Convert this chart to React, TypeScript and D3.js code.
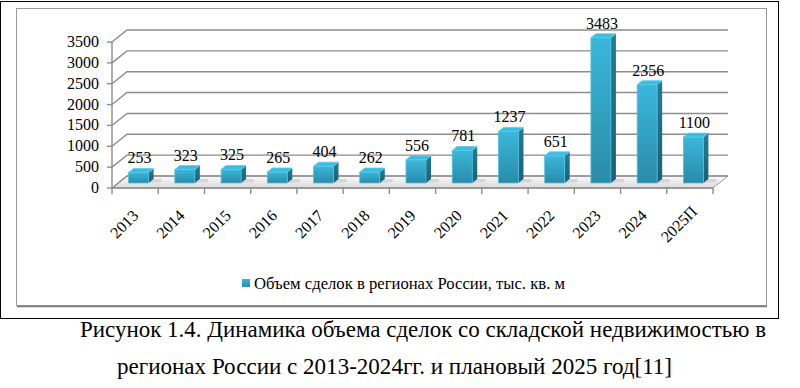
import React, { useEffect, useRef } from 'react';
import * as d3 from 'd3';

// Chart data
const years: string[] = ['2013', '2014', '2015', '2016', '2017', '2018', '2019', '2020', '2021', '2022', '2023', '2024', '2025П'];
const volumes: number[] = [253, 323, 325, 265, 404, 262, 556, 781, 1237, 651, 3483, 2356, 1100];
const yTicks: number[] = [0, 500, 1000, 1500, 2000, 2500, 3000, 3500];
const legendLabel = 'Объем сделок в регионах России, тыс. кв. м';
const captionLines: string[] = [
    'Рисунок 1.4. Динамика объема сделок со складской недвижимостью в',
    'регионах России с 2013-2024гг. и плановый 2025 год[11]',
];

const W = 800;
const H = 388;
const SERIF = "'Liberation Serif', 'DejaVu Serif', serif";

export default function App() {
    const svgRef = useRef<SVGSVGElement>(null);

    useEffect(() => {
        if (!svgRef.current) return;
        const svg = d3.select(svgRef.current);
        svg.selectAll('*').remove();

        // front plane of the 3D box
        const x = d3.scaleBand<string>().domain(years).range([112, 713]).padding(0);
        const y = d3.scaleLinear().domain([0, 3500]).range([188, 42]);
        const depth = { dx: 15, dy: -12 }; // back wall offset
        const bar = { half: 10, ox: 3.5, oy: -5, sx: 5, sy: -4 }; // bar front offset + side depth

        const defs = svg.append('defs');
        const front = defs.append('linearGradient').attr('id', 'barFront')
            .attr('x1', 0).attr('y1', 0).attr('x2', 0).attr('y2', 1);
        front.append('stop').attr('offset', '0%').attr('stop-color', '#3bb7db');
        front.append('stop').attr('offset', '100%').attr('stop-color', '#2a8ba8');
        const side = defs.append('linearGradient').attr('id', 'barSide')
            .attr('x1', 0).attr('y1', 0).attr('x2', 0).attr('y2', 1);
        side.append('stop').attr('offset', '0%').attr('stop-color', '#237c95');
        side.append('stop').attr('offset', '100%').attr('stop-color', '#1b6074');
        const floor = defs.append('linearGradient').attr('id', 'floorFill')
            .attr('x1', 0).attr('y1', 1).attr('x2', 0).attr('y2', 0);
        floor.append('stop').attr('offset', '0%').attr('stop-color', '#dadada');
        floor.append('stop').attr('offset', '100%').attr('stop-color', '#fafafa');
        const legendGrad = defs.append('linearGradient').attr('id', 'legendFill')
            .attr('x1', 0).attr('y1', 0).attr('x2', 0).attr('y2', 1);
        legendGrad.append('stop').attr('offset', '0%').attr('stop-color', '#3bb7db');
        legendGrad.append('stop').attr('offset', '100%').attr('stop-color', '#2a8ba8');

        svg.append('rect').attr('width', W).attr('height', H).attr('fill', '#fff');

        // outer black frame and inner chart frame
        svg.append('rect')
            .attr('x', 0.5).attr('y', 1.5).attr('width', 778).attr('height', 317)
            .attr('fill', 'none').attr('stroke', '#000').attr('stroke-width', 1);
        svg.append('rect')
            .attr('x', 16.5).attr('y', 8.5).attr('width', 750).attr('height', 297)
            .attr('fill', '#fff').attr('stroke', '#9a9a9a').attr('stroke-width', 1);
        svg.append('line')
            .attr('x1', 17).attr('x2', 767).attr('y1', 306.5).attr('y2', 306.5)
            .attr('stroke', '#7a7a7a').attr('stroke-width', 1.5);

        const x0 = x.range()[0];
        const x1 = x.range()[1];
        const g = svg.append('g');

        // floor
        g.append('polygon')
            .attr('points', [
                [x0, y(0)], [x1, y(0)], [x1 + depth.dx, y(0) + depth.dy], [x0 + depth.dx, y(0) + depth.dy],
            ].map(p => p.join(',')).join(' '))
            .attr('fill', 'url(#floorFill)')
            .attr('stroke', '#9a9a9a').attr('stroke-width', 1);

        // gridlines: diagonal on left wall, horizontal on back wall
        yTicks.forEach(t => {
            g.append('path')
                .attr('d', `M${x0},${y(t)} L${x0 + depth.dx},${y(t) + depth.dy} L${x1 + depth.dx},${y(t) + depth.dy}`)
                .attr('fill', 'none')
                .attr('stroke', '#8c8c8c')
                .attr('stroke-width', 1.4);
        });

        // axes
        g.append('line')
            .attr('x1', x0).attr('x2', x0).attr('y1', y(3500)).attr('y2', y(0))
            .attr('stroke', '#8c8c8c').attr('stroke-width', 1.4);
        g.append('line')
            .attr('x1', x0).attr('x2', x1).attr('y1', y(0)).attr('y2', y(0))
            .attr('stroke', '#8c8c8c').attr('stroke-width', 1.4);

        // y ticks + labels
        g.selectAll('.ytick').data(yTicks).enter().append('line')
            .attr('x1', x0 - 5).attr('x2', x0)
            .attr('y1', d => y(d)).attr('y2', d => y(d))
            .attr('stroke', '#8c8c8c').attr('stroke-width', 1.4);
        g.selectAll('.ylab').data(yTicks).enter().append('text')
            .attr('x', 99).attr('y', d => y(d) + 5)
            .attr('text-anchor', 'end')
            .style('font-family', SERIF).style('font-size', '16px').style('fill', '#000')
            .text(d => String(d));

        // x ticks at category boundaries
        const bounds = years.map(c => x(c)!).concat([x1]);
        g.selectAll('.xtick').data(bounds).enter().append('line')
            .attr('x1', d => d).attr('x2', d => d)
            .attr('y1', y(0)).attr('y2', y(0) + 6)
            .attr('stroke', '#8c8c8c').attr('stroke-width', 1.4);

        // x labels, rotated
        g.selectAll('.xlab').data(years).enter().append('text')
            .attr('transform', d => `translate(${x(d)! + x.bandwidth() / 2 - 11},${224}) rotate(-45)`)
            .attr('text-anchor', 'middle')
            .attr('dy', '0.35em')
            .style('font-family', SERIF).style('font-size', '16px').style('fill', '#000')
            .text(d => d);

        // bars
        const bw = x.bandwidth();
        const bars = g.selectAll('.bar').data(years.map((c, i) => ({ c, v: volumes[i] })))
            .enter().append('g').attr('class', 'bar');
        bars.each(function (d) {
            const cx = x(d.c)! + bw / 2 + bar.ox;
            const L = cx - bar.half;
            const R = cx + bar.half;
            const top = y(d.v) + bar.oy;
            const bot = y(0) + bar.oy;
            const el = d3.select(this);
            // shadow on floor
            el.append('polygon')
                .attr('points', [[R, bot], [R + bar.sx + 8, bot - 1], [R + bar.sx + 8, bot + bar.sy], [R + bar.sx, bot + bar.sy]]
                    .map(p => p.join(',')).join(' '))
                .attr('fill', '#c4c4c4').attr('opacity', 0.6);
            el.append('polygon')
                .attr('points', [[R, top], [R + bar.sx, top + bar.sy], [R + bar.sx, bot + bar.sy], [R, bot]]
                    .map(p => p.join(',')).join(' '))
                .attr('fill', 'url(#barSide)');
            el.append('rect')
                .attr('x', L).attr('y', top).attr('width', R - L).attr('height', bot - top)
                .attr('fill', 'url(#barFront)')
                .attr('stroke', '#4cc3e2').attr('stroke-width', 0.8);
            el.append('polygon')
                .attr('points', [[L, top], [R, top], [R + bar.sx, top + bar.sy], [L + bar.sx, top + bar.sy]]
                    .map(p => p.join(',')).join(' '))
                .attr('fill', '#3cbde0')
                .attr('stroke', '#5ccbe8').attr('stroke-width', 0.8);
            el.append('text')
                .attr('x', cx + 1).attr('y', top + bar.sy - 5)
                .attr('text-anchor', 'middle')
                .style('font-family', SERIF).style('font-size', '16px').style('fill', '#000')
                .text(String(d.v));
        });

        // legend
        svg.append('rect')
            .attr('x', 242).attr('y', 279).attr('width', 8).attr('height', 8)
            .attr('fill', 'url(#legendFill)');
        svg.append('text')
            .attr('x', 254).attr('y', 289)
            .attr('textLength', 311).attr('lengthAdjust', 'spacingAndGlyphs')
            .style('font-family', SERIF).style('font-size', '16.5px').style('fill', '#000')
            .text(legendLabel);

        // caption
        const capX = [80, 117];
        const capW = [686, 555];
        const capY = [337, 374];
        captionLines.forEach((line, i) => {
            svg.append('text')
                .attr('x', capX[i]).attr('y', capY[i])
                .attr('textLength', capW[i]).attr('lengthAdjust', 'spacingAndGlyphs')
                .style('font-family', SERIF).style('font-size', '23px').style('fill', '#000')
                .text(line);
        });
    }, []);

    return (
        <svg
            ref={svgRef}
            width={W}
            height={H}
            style={{ position: 'absolute', left: 0, top: 0, display: 'block' }}
        />
    );
}
